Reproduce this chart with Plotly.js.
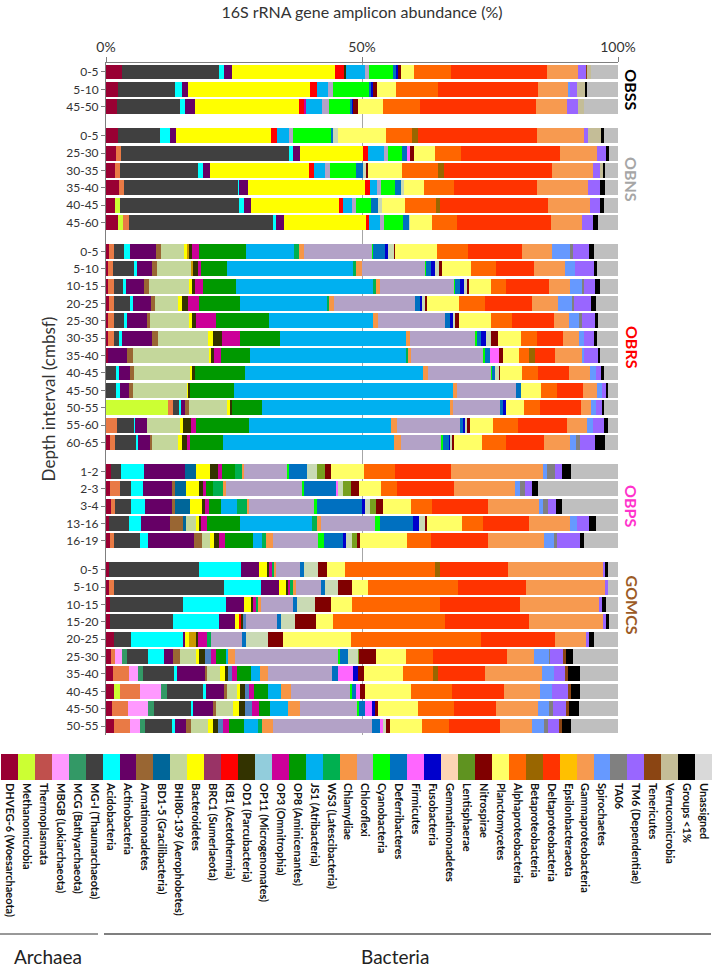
<!DOCTYPE html>
<html><head><meta charset="utf-8">
<script src="https://cdn.plot.ly/plotly-3.0.1.min.js"></script>
<style>html,body{margin:0;padding:0;background:#fff}#chart{width:713px;height:974px}</style>
</head><body><div id="chart"></div>
<script>
// ---------- categories ----------
const groups = ['OBSS','OBNS','OBRS','OBPS','GOMCS'];
const groupColors = ['#000000','#A6A6A6','#FF0000','#FF33CC','#9C5B26'];
const depthOBSS  = ['0-5','5-10','45-50'];
const depthOBNS  = ['0-5','25-30','30-35','35-40','40-45','45-60'];
const depthOBRS  = ['0-5','5-10','10-15','20-25','25-30','30-35','35-40','40-45','45-50','50-55','55-60','60-65'];
const depthOBPS  = ['1-2','2-3','3-4','13-16','16-19'];
const depthGOMCS = ['0-5','5-10','10-15','15-20','20-25','25-30','35-40','40-45','45-50','50-55'];
const depthLabels = [depthOBSS, depthOBNS, depthOBRS, depthOBPS, depthGOMCS];

const taxa = ['DHVEG-6 (Woesarchaeota)','Methanomicrobia','Thermoplasmata','MBGB (Lokiarchaeota)','MCG (Bathyarchaeota)','MG-I (Thaumarchaeota)',
 'Acidobacteria','Actinobacteria','Armatimonadetes','BD1-5 (Gracilibacteria)','BHI80-139 (Aerophobetes)','Bacteroidetes','BRC1 (Sumerlaeota)',
 'KB1 (Acetothermia)','OD1 (Parcubacteria)','OP11 (Microgenomates)','OP3 (Omnitrophia)','OP8 (Aminicenantes)','JS1 (Atribacteria)',
 'WS3 (Latescibacteria)','Chlamydiae','Chloroflexi','Cyanobacteria','Deferribacteres','Firmicutes','Fusobacteria','Gemmatimonadetes',
 'Lentisphaerae','Nitrospirae','Planctomycetes','Alphaproteobacteria','Betaproteobacteria','Deltaproteobacteria','Epsilonbacteraeota',
 'Gammaproteobacteria','Spirochaetes','TA06','TM6 (Dependentiae)','Tenericutes','Verrucomicrobia','Groups <1%','Unassigned'];
const barColors = ['#990033','#CCFF33','#E97A45','#FF99FF','#339966','#404040',
 '#00FFFF','#660066','#996633','#006699','#C4D79B','#FFFF00','#CC9900',
 '#FF0000','#333300','#4F81BD','#CC0099','#009900','#00B0F0',
 '#00B050','#F79646','#B3A2C7','#00FF00','#0070C0','#FF66FF','#0000CC','#C9DAB4',
 '#77A01E','#800000','#FFFF66','#FF6600','#996600','#FF3300','#FFC000',
 '#F79A50','#6699FF','#808080','#9966FF','#8B4513','#C4BD97','#000000','#BFBFBF'];
const legendColors = ['#990033','#CCFF33','#C0504D','#FF99FF','#339966','#404040',
 '#00FFFF','#660066','#996633','#006699','#C4D79B','#FFFF00','#993366',
 '#FF0000','#333300','#92CDDC','#CC0099','#009900','#00B0F0',
 '#00B050','#F79646','#B3A2C7','#00FF00','#0070C0','#FF66FF','#0000CC','#FCD5B4',
 '#5F9320','#800000','#FFFF66','#FF6600','#996600','#FF3300','#FFC000',
 '#F79A50','#6699FF','#808080','#9966FF','#8B4513','#C4BD97','#000000','#D9D9D9'];

// ---------- series values (%), rows: OBSS(3) | OBNS(6) | OBRS(12) | OBPS(5) | GOMCS(10) ----------
const DHVEG6 = [3.2,2.4,2.2, 2.4,2.0,1.8,2.6,1.8,2.3, 0.5,0.3,0.3,0.5,0.3,0.3,0.3,0,0,0,0,0.8, 0.9,0.7,0.9,0.5,0.7, 0.5,0.5,0.8,0.8,1.6,1.0,1.3,1.6,1.1,1.5];
const Methanomicrobia = [0,0,0, 0,0,0,0,1.0,1.0, 0,0,0,0,0,0,0,0,0,12.2,0,0, 0,0,0,0,0, 0,0,0,0,0,0,0,1.1,0,0];
const Thermoplasmata = [0,0,0, 0,1.0,1.0,1.0,0,1.1, 1.0,1.0,1.2,1.0,1.2,1.2,0,0,0,1.0,2.2,1.0, 0,2.0,0.9,0,0.8, 0,1.1,0,0,0,0.8,3.1,3.9,3.1,3.2];
const MBGB = [0,0,0, 0,0,0,0,0,0, 0,0,0,0,0,0,0,0,0,0,0,0, 0,0,0,0,0, 0,0,0,0,0,1.3,1.8,4.2,4.0,1.9];
const MCG = [0,0,0, 0,0,0,0,0,0, 0,0,0,0,0,0,0,0,0,0,0,0, 0,0,0,0,0, 0,0,0,0,0,1.0,1.0,1.2,1.2,1.0];
const MGI = [18.9,11.1,12.3, 8.1,32.8,15.2,22.2,23.2,28.3, 2.1,4.2,1.8,3.2,2.0,1.0,0,2.0,2.0,1.0,3.2,4.0, 2.0,2.1,3.0,4.1,5.1, 17.6,21.5,14.3,12.3,3.2,4.1,6.1,6.9,7.1,5.3];
const Acidobacteria = [0.9,1.3,1.0, 2.0,0.8,0.9,0.3,0.9,0.6, 1.1,0.5,0.7,0.6,0.7,0.7,0,0.5,0.7,0.5,0.3,0.5, 4.6,2.5,2.8,2.2,1.7, 8.3,7.3,8.3,9.0,10.2,3.1,0.5,0.6,0.5,0.7];
const Actinobacteria = [1.7,1.3,1.9, 1.2,1.4,1.5,1.6,1.5,1.5, 5.1,3.0,3.4,3.6,3.8,5.9,3.8,2.2,1.8,0.8,2.3,2.4, 7.9,5.7,5.3,5.8,8.9, 3.4,3.4,3.6,3.1,0.5,1.8,5.6,3.6,3.8,2.0];
const Armatimonadetes = [0,0,0, 0,0,0,0,0,0, 1.0,0.9,0.9,0.7,0.7,1.0,1.1,0.8,0.7,0.7,0,0.3, 0,0.5,0.7,2.4,1.5, 0,0,0,0,0,1.3,0.3,0.5,0.7,1.1];
const BD15 = [0,0,0, 0,0,0,0,0,0, 0,0,0,0,0,0,0,0,0,0,0,0, 2.2,2.2,2.8,0.7,0, 0,0,0,0,0,0,0,0,0,0];
const BHI80 = [0,0,0, 0,0,0,0,0,0, 4.5,6.7,7.9,4.5,7.6,9.9,14.9,10.9,10.6,7.5,6.6,5.1, 0,0,0,2.0,1.7, 0,0,0,0,0,3.1,2.5,2.0,3.2,3.3];
const Bacteroidetes = [20.1,23.8,20.3, 18.4,12.3,19.3,23.0,17.1,16.0, 0.5,0,0.5,0.8,0.5,0.9,0.4,0.5,0.2,0.5,0.5,0.8, 2.8,2.5,2.3,0.5,0.7, 1.7,1.3,1.3,0.8,0.8,0.7,1.0,0.5,1.2,0.9];
const BRC1 = [0,0,0, 0,0,0,0,0,0, 0.3,0.4,0,0,0,0,0,0,0,0,0,0, 0,0,0,0,0, 0,0,0,0,1.2,0,0,0,0,0];
const KB1 = [1.7,1.3,0.9, 1.3,0.9,1.0,0.9,0.7,0.7, 0,0,0,0,0,0,0,0,0,0,0,0, 0,0,0,0,0, 0,0,0,0.3,0,0,0,0,0,0];
const OD1 = [0.3,0,0, 0,0,0,0,0,0, 0.7,0.9,0.7,1.1,0.9,1.8,0.6,0.5,0.5,0.5,1.6,0.9, 1.5,0.8,0.7,0.5,1.0, 0.3,0.5,0.5,0.4,0.5,1.1,0.7,1.0,1.2,1.1];
const OP11 = [0,0,0, 0,0,0,0,0,0, 0,0,0,0,0,0,0,0,0,0,0,0, 0,0,0,0,0, 0,0,0,0.7,0,1.2,0.7,0.8,1.3,0.8];
const OP3 = [0,0,0.5, 0,0,0,0,0,0, 1.3,0.6,1.5,2.2,3.8,3.5,1.5,0,0,0,0.9,0.7, 0.7,0.5,0.7,1.0,1.1, 0.7,0.4,0.5,0,1.7,1.0,1.1,1.1,1.4,1.2];
const OP8 = [0,0,0, 0,0,0,0,0,0, 9.1,5.1,6.4,8.0,10.4,7.9,5.7,9.8,8.6,5.8,10.4,6.3, 2.6,1.5,2.4,6.5,5.5, 0,0,0,0,0,2.0,2.7,2.6,2.2,3.1];
const JS1 = [3.7,2.2,3.0, 2.3,3.3,2.2,1.5,1.8,2.1, 9.5,24.6,26.9,17.0,20.5,24.6,30.5,34.8,42.8,36.8,28.0,33.5, 0,0,3.2,14.2,1.8, 0,0,0,0,0,0.3,1.8,2.6,3.5,2.7];
const WS3 = [0,0,0, 0,0,0,0,0,0, 0.9,0.6,0.5,0.5,0,0,0.5,0,0,0,0,0, 1.3,2.0,1.8,1.0,0.8, 0.3,0.5,0.5,0,0.9,0,0,0,0,0.8];
const Chlamydiae = [0,0,0, 0,0,0,0,0,0, 0.9,1.2,0.8,1.0,0.9,0.8,0.5,1.0,0.8,0.7,1.1,1.4, 0.5,0.5,0.5,0.8,1.3, 0.4,0.6,0.5,0,0,1.3,1.5,2.0,2.3,2.0];
const Chloroflexi = [0.9,0.9,1.5, 0.7,0.7,1.0,0.8,0.8,0.8, 13.3,12.3,14.4,15.7,13.2,12.7,14.2,12.3,11.6,9.1,12.3,7.9, 8.4,14.9,12.7,10.4,8.9, 4.6,5.0,6.2,6.1,5.9,20.3,12.5,11.5,11.2,19.5];
const Cyanobacteria = [4.6,7.1,4.0, 7.4,2.8,5.1,2.6,3.0,3.7, 0.3,0.3,0.3,0,0,0.5,0.4,0.3,0,0,0,0.3, 0.3,0.3,0.5,1.0,1.1, 0,0,0,0,0,0.3,0,0.3,0.3,0];
const Deferribacteres = [0.7,0.4,0.4, 0.5,1.0,1.2,1.2,1.3,1.1, 2.2,0.9,1.0,1.0,0.9,0.8,0.9,0.6,1.0,0.6,0.6,1.2, 3.6,6.3,8.9,6.6,3.8, 0.9,0.7,0.9,0.7,0.9,1.5,1.1,0.9,1.3,1.5];
const Firmicutes = [0,0,0, 0,0.5,0,0,0,0, 0,0,0,0,0,0,1.7,0,0,0,0,0, 0,0.5,0,0,0, 0,0,0,0,0,0,3.0,0.8,1.3,0.7];
const Fusobacteria = [0.3,0.3,0.3, 0,0,0,0,0,0, 0.7,0.9,0.8,0.5,0.5,1.0,0,0,0,0.5,0.4,0.3, 0,0,0.5,1.2,0.5, 0,0,0,0,0,0,0.9,0,0.5,0];
const Gemmatimonadetes = [0,0,0, 1.0,0,0.6,0.7,0.9,0.3, 1.1,0.8,0.5,0.6,0.5,0.9,0,0.7,0,0,0.5,0.3, 2.0,1.0,1.0,1.0,1.2, 2.8,2.6,3.5,2.8,4.3,2.0,0,0,0,0.5];
const Lentisphaerae = [0,0,0, 0,0,0,0,0,0, 0,0,0,0,0,0,0,0,0,0,0,0, 1.5,1.5,1.3,0,1.0, 0,0,0,0,0,0.3,0,0,0,0];
const Nitrospirae = [0.7,0.8,1.0, 0,0.7,0.4,0,0,0, 0.3,0.5,0.3,0.4,0.7,1.3,0.9,0.3,0,0,0.5,0.5, 1.1,1.5,1.4,0.5,0.5, 1.7,2.6,3.0,4.1,2.8,3.3,1.2,1.0,0.7,0.8];
const Planctomycetes = [2.5,3.8,4.8, 9.2,4.1,6.7,3.8,4.3,4.2, 8.1,5.6,4.4,6.1,6.4,4.6,3.0,4.2,4.0,3.6,4.5,5.3, 6.5,4.4,5.4,6.8,9.2, 3.5,3.3,4.1,3.3,13.3,5.8,7.6,8.9,7.7,6.2];
const Alphaproteobacteria = [7.1,8.1,7.3, 5.1,5.1,7.0,6.0,6.1,5.0, 6.1,5.0,3.0,5.1,4.0,3.2,2.0,3.1,3.0,3.2,5.0,4.8, 6.1,3.2,4.1,4.1,4.8, 17.5,17.5,17.3,21.8,25.5,5.3,5.9,8.0,7.1,5.3];
const Betaproteobacteria = [0,0,0, 1.2,0,1.3,0,0.9,0, 0,0,0,0,0,0,1.2,0,0,0,0,0, 0,0,0,0,0, 1.0,0,0,0,0,0,1.0,0,0,0];
const Deltaproteobacteria = [18.9,19.5,22.6, 23.2,19.5,21.1,16.1,21.1,18.3, 10.4,7.3,8.4,9.2,8.2,5.0,3.9,6.1,5.1,7.9,9.5,7.4, 10.9,11.0,10.9,9.0,11.1, 13.3,13.3,15.6,16.5,14.3,14.5,9.2,10.2,8.1,10.1];
const Epsilonbacteraeota = [0,0,0, 0,0,0,0,0,0, 0,0,0,0,0,0,0,0,0,0,0,0, 0,0,0,0,0, 0,0,0,0,0,0,0,0,0,0];
const Gammaproteobacteria = [5.9,5.9,6.1, 9.2,7.1,8.1,10.0,8.1,6.1, 5.9,6.2,4.1,5.1,3.0,3.1,5.3,4.2,2.8,2.1,4.0,5.1, 18.0,12.1,10.1,8.1,11.0, 18.6,15.5,15.5,14.5,6.1,5.1,11.1,7.1,8.2,6.1];
const Spirochaetes = [0,0.5,0, 0,0,0,0,0,0, 3.6,1.8,2.3,2.8,2.0,1.0,0.5,1.0,1.0,0.9,1.1,1.1, 0.8,0.9,0.8,1.3,1.8, 0,0,0,0,0,3.0,2.3,2.3,2.3,2.4];
const TA06 = [0,0,0, 0,0,0,0,0,0, 0.5,0,0.4,0.4,0.5,0,0,0,0,0,0,0.9, 1.5,1.0,0.9,0,0.7, 0,0,0,0,0,0.3,0,0,0.7,0.8];
const TM6 = [1.6,1.2,2.0, 0.7,1.8,1.3,2.4,2.0,2.2, 3.1,3.8,2.1,3.3,2.5,2.0,2.6,1.1,0.8,1.1,2.3,2.8, 1.5,1.3,1.5,2.4,4.4, 0.4,0.5,0.5,0.5,0.7,2.5,2.3,3.2,2.6,2.2];
const Tenericutes = [0.3,0,0, 0,0,0,0,0,0, 0,0,0,0,0,0,0,0,0,0,0,0, 0,0,0,0,0, 0,0,0,0,0,0.5,0.5,0.5,0.5,0.5];
const Verrucomicrobia = [0.7,1.6,1.3, 2.6,0,0.5,0,0,0, 0,0,0,0,0,0,0,0,0,0,0,0, 0,0,0,0,0, 0,0,0,0,0,0,0,0,0,0];
const GroupsLT1 = [0,0.4,0, 0.5,0.7,0.5,1.0,0.8,0.8, 1.0,0.5,0.9,0.9,0.6,0.5,0.5,0.5,0.3,0.5,0.7,2.0, 1.8,1.3,1.3,1.3,0.9, 0.6,0,0.9,0.7,0.9,1.5,2.3,1.7,2.0,1.8];
const Unassigned = [5.3,6.1,6.6, 2.8,1.7,2.5,2.5,2.7,4.0, 4.7,4.2,3.6,4.4,4.0,4.2,3.5,2.8,2.0,2.7,2.0,2.6, 9.1,15.6,10.9,4.4,6.6, 1.9,2.0,2.3,1.7,4.7,8.7,7.5,7.5,7.6,9.2];

const series = [DHVEG6,Methanomicrobia,Thermoplasmata,MBGB,MCG,MGI,Acidobacteria,Actinobacteria,Armatimonadetes,BD15,BHI80,
 Bacteroidetes,BRC1,KB1,OD1,OP11,OP3,OP8,JS1,WS3,Chlamydiae,Chloroflexi,Cyanobacteria,Deferribacteres,Firmicutes,Fusobacteria,
 Gemmatimonadetes,Lentisphaerae,Nitrospirae,Planctomycetes,Alphaproteobacteria,Betaproteobacteria,Deltaproteobacteria,
 Epsilonbacteraeota,Gammaproteobacteria,Spirochaetes,TA06,TM6,Tenericutes,Verrucomicrobia,GroupsLT1,Unassigned];

// ---------- layout helpers ----------
const GAP = 0.67;
const yPos = [], yText = [], groupOfRow = [];
let k = 0;
depthLabels.forEach((rows, g) => rows.forEach(lab => { yPos.push(k + g*GAP); yText.push(lab); groupOfRow.push(g); k++; }));
const nRows = yPos.length;
const totals = yPos.map((_, i) => series.reduce((s, a) => s + a[i], 0));

const FONT = 'Lato, "Open Sans", "Liberation Sans", sans-serif';
const traces = series.map((vals, t) => ({
  type: 'bar', orientation: 'h', name: taxa[t],
  x: vals.map((v, i) => v * 100 / totals[i]), y: yPos,
  width: 0.86, marker: {color: barColors[t], line: {width: 0}},
  xaxis: 'x', yaxis: 'y', hoverinfo: 'name+x', showlegend: false
}));
// colour key drawn as a bar strip on its own axes
traces.push({
  type: 'bar', x: taxa, y: taxa.map(() => 1), width: 1,
  marker: {color: legendColors, line: {width: 0}},
  xaxis: 'x2', yaxis: 'y2', hoverinfo: 'x', showlegend: false
});

const H = 974, W = 713;
const yTop = -0.5, yBot = yPos[nRows-1] + 0.5;
function gCenter(g){ const r = yPos.filter((_, i) => groupOfRow[i] === g); return (r[0] + r[r.length-1]) / 2; }
const labelY = [gCenter(0), gCenter(1), gCenter(2), gCenter(3), yPos[groupOfRow.indexOf(4) + 2]];

const layout = {
  width: W, height: H, margin: {l:0, r:0, t:0, b:0},
  paper_bgcolor: '#fff', plot_bgcolor: '#fff',
  barmode: 'stack', showlegend: false,
  font: {family: FONT, color: '#404040'},
  title: {text: '16S rRNA gene amplicon abundance (%)', x: 362/W, xanchor: 'center', y: 1 - 12/H, yanchor: 'middle',
          font: {family: FONT, size: 16, color: '#333'}},
  xaxis: {domain: [106/W, 618/W], range: [0, 100], side: 'top', anchor: 'y',
          tickvals: [0, 50, 100], ticktext: ['0%', '50%', '100%'], ticks: 'outside', ticklen: 5, tickcolor: '#7f7f7f',
          showline: true, linecolor: '#7f7f7f', linewidth: 1, showgrid: true, gridcolor: '#a6a6a6', gridwidth: 1,
          zeroline: false, tickfont: {size: 14, color: '#333'}, fixedrange: true},
  yaxis: {domain: [1 - 734.7/H, 1 - 63.3/H], range: [yBot, yTop], anchor: 'x',
          tickvals: yPos, ticktext: yText, ticks: 'outside', ticklen: 4, tickcolor: '#7f7f7f',
          showline: true, linecolor: '#7f7f7f', linewidth: 1, showgrid: false, zeroline: false,
          tickfont: {size: 12, color: '#333'},
          title: {text: 'Depth interval (cmbsf)', font: {size: 17, color: '#333'}, standoff: 6}},
  xaxis2: {domain: [1/W, 712/W], anchor: 'y2', type: 'category', range: [-0.5, taxa.length - 0.5],
           tickangle: 90, ticks: '', showline: false, showgrid: false, zeroline: false, ticklabelstandoff: 2,
           tickfont: {size: 11, color: '#111', weight: 'bold'}},
  yaxis2: {domain: [1 - 780/H, 1 - 754/H], anchor: 'x2', range: [0, 1], visible: false},
  annotations: groups.map((g, i) => ({
    text: '<b>' + g + '</b>', xref: 'paper', yref: 'y', x: 632/W, y: labelY[i], xanchor: 'center', yanchor: 'middle',
    textangle: 90, showarrow: false, font: {size: 16, color: groupColors[i], family: FONT}
  })).concat([
    {text: 'Archaea', xref: 'paper', yref: 'paper', x: 48/W, y: 1 - 956/H, showarrow: false, xanchor: 'center', yanchor: 'middle',
     font: {size: 19, color: '#222', family: FONT}},
    {text: 'Bacteria', xref: 'paper', yref: 'paper', x: 395/W, y: 1 - 956/H, showarrow: false, xanchor: 'center', yanchor: 'middle',
     font: {size: 19, color: '#222', family: FONT}}
  ]),
  shapes: [
    {type: 'line', xref: 'paper', yref: 'paper', x0: 0, x1: 98/W, y0: 1 - 934/H, y1: 1 - 934/H, line: {color: '#333', width: 1}},
    {type: 'line', xref: 'paper', yref: 'paper', x0: 104/W, x1: 711/W, y0: 1 - 934/H, y1: 1 - 934/H, line: {color: '#555', width: 1.5}}
  ]
};
Plotly.newPlot('chart', traces, layout, {displayModeBar: false, staticPlot: true});
</script></body></html>
